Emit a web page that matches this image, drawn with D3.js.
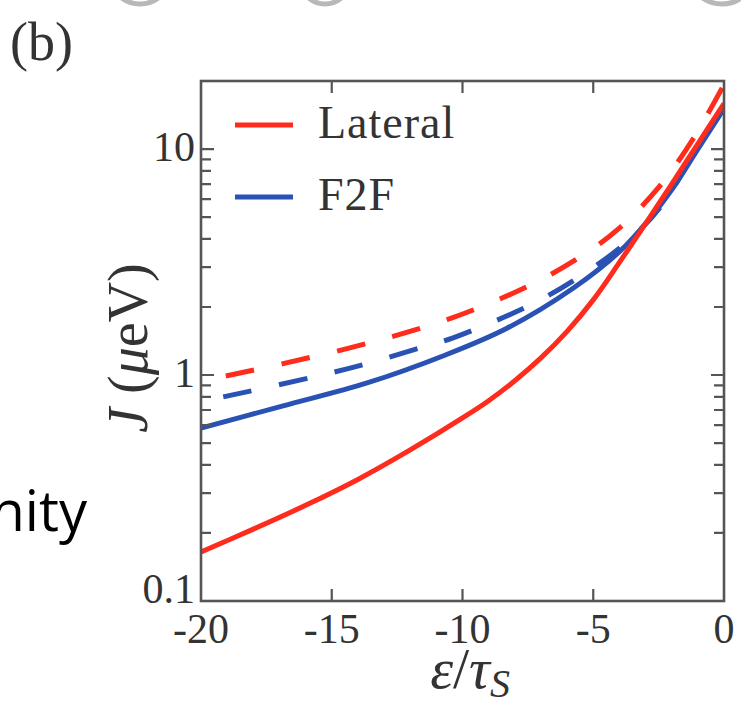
<!DOCTYPE html>
<html>
<head>
<meta charset="utf-8">
<style>
  body { margin: 0; background: #fff; }
  svg { display: block; }
  .serif { font-family: "Liberation Serif", "DejaVu Serif", serif; fill: #333; }
</style>
</head>
<body>
<svg width="741" height="703"></svg>
<script src="https://cdn.jsdelivr.net/npm/d3@7"></script>
<script>
// values
var lateralX = [-20, -18, -16, -14, -12, -10, -9, -8, -7, -6, -5, -4, -3, -2, -1, 0];
var lateralJ = [0.165, 0.208, 0.265, 0.345, 0.466, 0.646, 0.77, 0.943, 1.19, 1.56, 2.15, 3.15, 4.68, 7.0, 10.55, 15.9];
var f2fX = [-20, -16.86, -13.65, -10.7, -8.3, -5.77, -3.98, -2.83, -2, -1, 0];
var f2fJ = [0.583, 0.73, 0.922, 1.22, 1.61, 2.42, 3.53, 4.94, 6.6, 10, 15.1];
var lateralDashX = [-19.05, -16.9, -13.65, -10.4, -7.35, -5.4, -4.05, -2.5, -1.2, 0];
var lateralDashJ = [0.99, 1.12, 1.38, 1.79, 2.52, 3.39, 4.42, 6.76, 11.0, 19.3];
var f2fDashX = [-19.15, -15.87, -13.69, -11.51, -10.36, -7.34, -5.39, -3.7, -2.41, -1.11, 0];
var f2fDashJ = [0.80, 0.97, 1.12, 1.33, 1.46, 2.06, 2.79, 3.89, 5.58, 9.77, 15.8];

var xTicks = [-20, -15, -10, -5, 0];
var xTickLabels = ['-20', '-15', '-10', '-5', '0'];
var yTicks = [0.1, 1, 10];
var yTickLabels = ['0.1', '1', '10'];
var yMinor = [0.2, 0.3, 0.4, 0.5, 0.6, 0.7, 0.8, 0.9, 2, 3, 4, 5, 6, 7, 8, 9, 20];
var seriesNames = ['Lateral', 'F2F'];

var red = '#ff2b1c', blue = '#2a52b4';
var svg = d3.select('svg');

// plot box (named so they don't clash with window.top)
var pL = 201, pR = 724, pT = 81, pB = 601;
var x = d3.scaleLinear().domain([-20, 0]).range([pL, pR]);
var y = d3.scaleLog().domain([0.1, 20]).range([pB, pT]);

// bits of the slide behind the figure
svg.append('g').selectAll('ellipse')
    .data([[140, 36], [325, 32], [722, 38]])
  .enter().append('ellipse')
    .attr('cx', function(d) { return d[0]; })
    .attr('cy', -40)
    .attr('rx', function(d) { return d[1]; })
    .attr('ry', 44)
    .style('fill', 'none')
    .style('stroke', '#b8b8b8')
    .style('stroke-width', 5);

svg.append('text')
    .attr('x', 87).attr('y', 531)
    .attr('text-anchor', 'end')
    .style('font-family', '"Open Sans", "Noto Sans", sans-serif')
    .style('font-size', '56px')
    .style('fill', '#000')
    .text('nity');

svg.append('text').attr('class', 'serif')
    .attr('x', 10).attr('y', 60)
    .style('font-size', '54px')
    .text('(b)');

// curves
var line = d3.line()
    .x(function(d) { return x(d[0]); })
    .y(function(d) { return y(d[1]); })
    .curve(d3.curveCatmullRom.alpha(0.5));

var curves = [
  { xs: lateralDashX, js: lateralDashJ, color: red, dash: '29,28' },
  { xs: f2fDashX, js: f2fDashJ, color: blue, dash: '29,28' },
  { xs: f2fX, js: f2fJ, color: blue, dash: null },
  { xs: lateralX, js: lateralJ, color: red, dash: null }
];

svg.append('clipPath').attr('id', 'clip')
  .append('rect')
    .attr('x', pL).attr('y', pT)
    .attr('width', pR - pL).attr('height', pB - pT);

svg.append('g').attr('clip-path', 'url(#clip)')
  .selectAll('path')
    .data(curves)
  .enter().append('path')
    .attr('d', function(c) { return line(d3.zip(c.xs, c.js)); })
    .style('fill', 'none')
    .style('stroke', function(c) { return c.color; })
    .style('stroke-width', 5)
    .style('stroke-dasharray', function(c) { return c.dash; });

// frame and ticks
var axisColor = '#555';
var ticks = svg.append('g').style('stroke', axisColor).style('stroke-width', 2.2);

ticks.selectAll('.xt')
    .data(xTicks.slice(1, -1))
  .enter().append('path')
    .attr('d', function(d) {
      return 'M' + x(d) + ',' + pB + 'v-12M' + x(d) + ',' + pT + 'v12';
    });

ticks.selectAll('.ymaj')
    .data(yTicks.slice(1))
  .enter().append('path')
    .attr('d', function(d) {
      return 'M' + pL + ',' + y(d) + 'h13M' + pR + ',' + y(d) + 'h-13';
    });

ticks.selectAll('.ymin')
    .data(yMinor)
  .enter().append('path')
    .attr('d', function(d) {
      return 'M' + pL + ',' + y(d) + 'h10M' + pR + ',' + y(d) + 'h-10';
    });

svg.append('rect')
    .attr('x', pL).attr('y', pT)
    .attr('width', pR - pL).attr('height', pB - pT)
    .style('fill', 'none')
    .style('stroke', axisColor)
    .style('stroke-width', 2.6);

// tick labels
svg.append('g').selectAll('text')
    .data(xTicks)
  .enter().append('text')
    .attr('class', 'serif')
    .attr('x', function(d) { return x(d); })
    .attr('y', pB + 42)
    .attr('text-anchor', 'middle')
    .style('font-size', '42px')
    .text(function(d, i) { return xTickLabels[i]; });

svg.append('g').selectAll('text')
    .data(yTicks)
  .enter().append('text')
    .attr('class', 'serif')
    .attr('x', pL - 6)
    .attr('y', function(d) { return y(d) + (d === 0.1 ? 2 : 12); })
    .attr('text-anchor', 'end')
    .style('font-size', '42px')
    .text(function(d, i) { return yTickLabels[i]; });

// axis labels
svg.append('text').attr('class', 'serif')
    .attr('x', 470).attr('y', 688)
    .attr('text-anchor', 'middle')
    .style('font-size', '58px')
    .html('<tspan font-style="italic">ε</tspan>/<tspan font-style="italic">τ</tspan><tspan font-style="italic" font-size="40px" dy="9">S</tspan>');

svg.append('text').attr('class', 'serif')
    .attr('transform', 'translate(147,348) rotate(-90)')
    .attr('text-anchor', 'middle')
    .style('font-size', '56px')
    .html('<tspan font-style="italic">J</tspan> (<tspan font-style="italic">μ</tspan>eV)');

// legend
var legend = svg.append('g').selectAll('g')
    .data(seriesNames)
  .enter().append('g')
    .attr('transform', function(d, i) { return 'translate(0,' + (125 + i * 72) + ')'; });

legend.append('line')
    .attr('x1', 235).attr('x2', 293)
    .style('stroke', function(d, i) { return i === 0 ? red : blue; })
    .style('stroke-width', 5);

legend.append('text').attr('class', 'serif')
    .attr('x', 318).attr('y', 13)
    .style('font-size', '46px')
    .style('letter-spacing', '1px')
    .text(function(d) { return d; });
</script>
</body>
</html>
